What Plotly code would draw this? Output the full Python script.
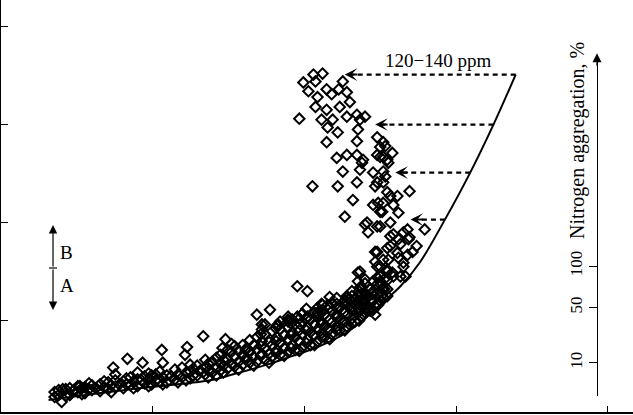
import math
import plotly.graph_objects as go

# ---------------- data ----------------
# dense band of open diamonds just above the curve
band_x = [53,53, 68,68, 71, 72, 76,76, 78, 83,83, 90,90, 94, 98,98, 106,106, 113,113,113, 117,
          121,121, 128,128, 135,135,135, 139, 142,142, 149,149, 157,157, 164,164, 168, 172,172,
          179,179, 187,187,187, 194,194, 197, 202,202,202, 209,209, 217,217,217, 224,224,224,
          228,228, 231,231,231, 239,239,239, 243,243, 246,246,246, 253,253,253, 258,258,258,
          261,261,261,261, 268,268,268, 273,273,273, 276,276,276,276, 284,284,284,284,
          288,288,288, 291,291,291, 298,298,298,298, 303,303,303, 306,306,306,
          313,313,313,313, 317,317,317, 320,320,320, 327,327,327,327, 332,332,332,
          335,335,335, 342,342,342,342, 347,347,347, 350,350,350, 357,357,357,357,
          362,362, 365,365,365, 372,372,372,372, 376,376, 379,379,379]
band_y = [22,27, 24,31, 28, 29, 27,33, 33, 26,32, 29,34, 31, 28,35, 30,37, 32,39,45, 35,
          31,38, 34,42, 33,40,47, 39, 36,43, 35,44, 38,48, 37,44, 43, 40,50,
          42,52, 41,48,55, 44,54, 49, 45,52,60, 47,58, 49,56,65, 51,60,70,
          56,68, 53,63,74, 55,65,75, 62,72, 57,68,80, 58,70,83, 66,79,91,
          60,72,86,96, 63,75,89, 70,83,95, 65,77,91,99, 68,81,93,101,
          75,88,101, 70,83,96, 73,86,99,107, 81,93,104, 75,88,101,
          79,91,104,113, 87,99,110, 83,94,106, 86,98,109,118, 94,106,117,
          90,101,113, 94,105,116,125, 102,114,125, 99,110,121, 104,115,127,134,
          113,125, 110,121,132, 116,127,137,144, 125,136, 123,132,142]

# extra overlapping diamonds that make the band look solid
band2_x = [57,57, 64,64, 80,80, 87,87, 102,102, 109,109, 124,124, 131,131, 146,146,146,
           153,153, 160,160, 175,175, 183,183, 190,190, 205,205,205, 213,213,213, 220,220,220,
           235,235,235, 250,250,250, 265,265,265, 280,280,280, 295,295,295,295,
           310,310,310,310, 325,325,325,325, 340,340,340,340, 354,354,354,354,
           368,368,368,368, 382,382,382,382]
band2_y = [24,29, 23,30, 25,31, 30,36, 32,38, 27,34, 35,41, 31,38, 33,40,46,
           39,45, 35,42, 37,45, 39,47, 44,51, 42,49,56, 44,52,62, 47,54,60,
           50,58,69, 54,63,75, 57,66,78, 64,72,85, 69,79,90,102,
           75,85,96,108, 81,91,101,113, 90,99,109,120, 100,109,119,130,
           111,120,130,140, 125,132,141,150]

band3_x = [242,242, 257,257,257, 272,272,272, 287,287,287, 302,302,302,302,
           317,317,317,317, 332,332,332,332, 347,347,347,347, 360,360,360,360, 375,375,375]
band3_y = [60,70, 64,74,86, 67,79,92, 72,85,97, 77,90,102,112,
           83,96,108,117, 90,103,113,123, 97,110,120,130, 108,118,128,138, 120,130,140]

# scattered open diamonds
loose_x = [309,318,299,311,304,322,338,334,342,313,
           327,311,322,335,345,295,317,328,342,352,
           360,355,323,333,353,322,352,372,378,375,
           387,332,342,352,357,372,378,383,338,355,
           368,378,352,308,333,372,380,380,375,382,
           358,404,378,370,385,392,373,377,393,362,
           372,385,363,419,388,398,403,411,395,385,
           370,392,378,398,372,387,395,365,358,348,
           382,368,378,388,340,375,360,375,402,385,
           393,404,372,382,402,370,383,393,407,375,
           382,398,388,400,355,375,353,360,293,303,
           325,342,355,318,284,293,313,353,111,125,
           140,159,160,184,182,200,253,266,222,228,
           219,258,274,284,296,314,323,342,360,367,
           373,363,370,377,355,350,60,61]
loose_y = [351,352,343,344,334,336,344,336,333,328,
           331,318,315,318,323,306,305,305,308,310,
           308,305,297,292,295,282,283,287,282,277,
           271,266,269,269,261,269,267,261,252,254,
           251,252,241,237,237,241,247,278,267,264,
           264,232,241,237,227,227,220,211,210,200,
           196,200,190,193,188,190,183,176,178,176,
           170,169,162,159,155,149,145,132,121,223,
           231,218,220,218,206,211,198,196,193,186,
           183,185,170,174,167,160,162,164,170,155,
           152,155,145,145,150,145,140,142,135,130,
           124,123,134,116,104,104,108,149,52,61,
           57,70,57,73,65,84,106,111,81,76,
           72,96,96,99,96,106,116,119,121,127,
           116,111,106,132,111,116,17,30]

# solid boundary curve
curve_x = [47,128,207,229,263,283,313,342,362,378,395,414,439,464,487,509]
curve_y = [19,30,39,45,55,62,73,88,104,119,135,159,203,251,300,351]

# dashed arrows from the curve to the scatter
arrow_y = [351, 300, 251, 203]
arrow_from_x = [509, 487, 464, 439]
arrow_to_x = [340, 370, 390, 405]
arrow_label = "120\u2212140 ppm"

x_ticks = [150, 300, 450, 600]
y_ticks = [100, 200, 300, 400]
aggregation_ticks = [10, 50, 100]
aggregation_title = "Nitrogen aggregation, %"
range_labels = ["B", "A"]

FONT = "Liberation Serif"

fig = go.Figure()

fig.add_trace(go.Scatter(
    x=band_x + band2_x + band3_x + loose_x,
    y=band_y + band2_y + band3_y + loose_y, mode="markers",
    marker=dict(symbol="diamond-open", size=8, color="black",
                line=dict(width=2.0, color="black")),
    showlegend=False, hoverinfo="skip"))

fig.add_trace(go.Scatter(
    x=curve_x, y=curve_y, mode="lines",
    line=dict(color="black", width=2, shape="spline", smoothing=1.0),
    showlegend=False, hoverinfo="skip"))

dx, dy = [], []
for x0, x1, yy in zip(arrow_from_x, arrow_to_x, arrow_y):
    dx += [x0, x1 + 6, None]
    dy += [yy, yy, None]
fig.add_trace(go.Scatter(
    x=dx, y=dy, mode="lines",
    line=dict(color="black", width=2.3, dash="5px,4px"),
    showlegend=False, hoverinfo="skip"))

# carrier trace for the right-hand (square-root scaled) aggregation axis
fig.add_trace(go.Scatter(x=[0], y=[1], xaxis="x", yaxis="y2", mode="markers",
                         marker=dict(opacity=0), showlegend=False, hoverinfo="skip"))

annotations = []
for x1, yy in zip(arrow_to_x, arrow_y):
    annotations.append(dict(x=x1, y=yy, xref="x", yref="y", ax=14, ay=0,
                            text="", showarrow=True, arrowhead=3,
                            arrowwidth=2, arrowsize=1.05, arrowcolor="black"))
annotations.append(dict(x=432, y=365, xref="x", yref="y", text=arrow_label,
                        showarrow=False, xanchor="center", yanchor="middle",
                        font=dict(family=FONT, size=19, color="black")))
# arrow tip of the right axis
annotations.append(dict(x=0.943, y=0.871, xref="paper", yref="paper", ax=0, ay=14,
                        text="", showarrow=True, arrowhead=2, arrowwidth=1.2,
                        arrowsize=1.5, arrowcolor="black"))
annotations.append(dict(x=0.913, y=0.658, xref="paper", yref="paper",
                        xanchor="center", yanchor="middle",
                        text=aggregation_title, textangle=-90, showarrow=False,
                        font=dict(family=FONT, size=20, color="black")))
# B / A double arrow
annotations.append(dict(x=0.0823, y=0.4539, xref="paper", yref="paper", ax=0, ay=43,
                        text="", showarrow=True, arrowhead=2, arrowwidth=1.2,
                        arrowsize=1.4, arrowcolor="black"))
annotations.append(dict(x=0.0823, y=0.2476, xref="paper", yref="paper", ax=0, ay=-42,
                        text="", showarrow=True, arrowhead=2, arrowwidth=1.2,
                        arrowsize=1.4, arrowcolor="black"))
annotations.append(dict(x=0.1044, y=0.386, xref="paper", yref="paper",
                        xanchor="center", yanchor="middle",
                        text=range_labels[0], showarrow=False,
                        font=dict(family=FONT, size=19, color="black")))
annotations.append(dict(x=0.1044, y=0.308, xref="paper", yref="paper",
                        xanchor="center", yanchor="middle",
                        text=range_labels[1], showarrow=False,
                        font=dict(family=FONT, size=19, color="black")))

shapes = [dict(type="line", xref="paper", yref="paper", x0=0.076, x1=0.0886,
               y0=0.3495, y1=0.3495, line=dict(color="black", width=1.2))]

fig.update_layout(
    width=633, height=415, autosize=False,
    margin=dict(l=1, r=0, t=0, b=3, pad=0),
    paper_bgcolor="white", plot_bgcolor="rgba(0,0,0,0)",
    showlegend=False,
    xaxis=dict(range=[0, 625], tickvals=x_ticks, showticklabels=False,
               ticks="inside", ticklen=6, tickcolor="black", tickwidth=1.2,
               showline=True, linecolor="black", linewidth=1.5,
               showgrid=False, zeroline=False),
    yaxis=dict(range=[6.7, 427.1], tickvals=y_ticks, showticklabels=False,
               ticks="inside", ticklen=7, tickcolor="black", tickwidth=1.2,
               showline=True, linecolor="black", linewidth=1.5,
               showgrid=False, zeroline=False),
    yaxis2=dict(domain=[0.0388, 0.866], anchor="free", position=0.943, side="left",
                range=[0.807, 24.92],
                tickvals=[math.sqrt(v) for v in aggregation_ticks],
                ticktext=[str(v) for v in aggregation_ticks],
                ticks="outside", ticklen=8, tickcolor="black", tickwidth=1.1,
                tickangle=-90,
                tickfont=dict(family=FONT, size=17, color="black"),
                showline=True, linecolor="black", linewidth=1.2,
                showgrid=False, zeroline=False),
    annotations=annotations, shapes=shapes,
)

fig.write_html(
    "out.html",
    config={"displayModeBar": False},
    post_script="document.body.style.margin='0';document.body.style.padding='0';"
                "document.documentElement.style.overflow='hidden';",
)
